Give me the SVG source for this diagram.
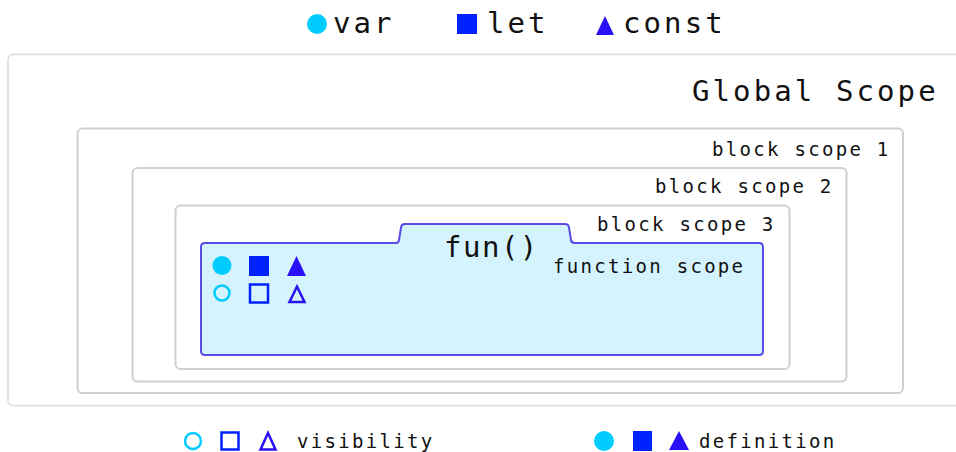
<svg xmlns="http://www.w3.org/2000/svg" width="956" height="452" viewBox="0 0 956 452">
<style>
text{font-family:"DejaVu Sans Mono","Liberation Mono",monospace;fill:#111}
.big{font-size:29px;letter-spacing:3.1px}
.lbl{font-size:19px;letter-spacing:2.3px}
.scope{fill:none;stroke:#d0d0d0;stroke-width:2}
.var{fill:#00ccff}
.let{fill:#0022ff}
.const{fill:#2a10f5}
.varo{fill:none;stroke:#00ccff;stroke-width:2.5}
.leto{fill:none;stroke:#0022ff;stroke-width:2.5}
.consto{fill:none;stroke:#2a10f5;stroke-width:2.5;stroke-linejoin:miter}
</style>
<rect width="956" height="452" fill="#fff"/>
<g id="legend-top">
<circle class="var" cx="317" cy="24" r="10"/>
<text class="big" x="333" y="33">var</text>
<rect class="let" x="457" y="14" width="20" height="20"/>
<text class="big" x="487" y="33">let</text>
<polygon class="const" points="596,35 605,16 614,35"/>
<text class="big" x="623" y="33">const</text>
</g>
<g id="global-scope">
<rect x="8" y="54.5" width="960" height="351" rx="5" fill="none" stroke="#dcdcdc" stroke-width="1.5"/>
<text class="big" x="692" y="101">Global Scope</text>
</g>
<g id="block-scope-1">
<rect class="scope" x="77.5" y="128.5" width="825.5" height="264.5" rx="5"/>
<text class="lbl" x="712" y="156">block scope 1</text>
</g>
<g id="block-scope-2">
<rect class="scope" x="132.5" y="168" width="714" height="213.5" rx="5"/>
<text class="lbl" x="655" y="193">block scope 2</text>
</g>
<g id="block-scope-3">
<rect class="scope" x="175.5" y="205.5" width="614" height="163.5" rx="5"/>
<text class="lbl" x="597" y="231">block scope 3</text>
</g>
<g id="function-scope">
<path d="M201,247 Q201,243 205,243 L396,243 Q398.5,243 399,240 L401,227.5 Q401.5,224 405,224 L565,224 Q568.5,224 569,227.5 L571,240 Q571.5,243 575,243 L759,243 Q763,243 763,247 L763,351 Q763,355 759,355 L205,355 Q201,355 201,351 Z" fill="#d5f3fd" stroke="#5a4ae6" stroke-width="2"/>
<text x="444" y="257" style="font-size:29px;letter-spacing:1.5px">fun()</text>
<text class="lbl" x="553" y="273">function scope</text>
<circle class="var" cx="222" cy="265.5" r="9.5"/>
<rect class="let" x="249" y="256" width="20" height="20"/>
<polygon class="const" points="287,276 296.5,256 306,276"/>
<circle class="varo" cx="222" cy="293" r="7.5"/>
<rect class="leto" x="250" y="284.5" width="18" height="18"/>
<polygon class="consto" points="289.5,302 297,286.5 304.5,302"/>
</g>
<g id="legend-bottom">
<circle class="varo" cx="193" cy="441" r="8"/>
<rect class="leto" x="221.5" y="432.5" width="17" height="17"/>
<polygon class="consto" points="260.5,449.5 268,433 275.5,449.5"/>
<text class="lbl" x="297" y="448">visibility</text>
<circle class="var" cx="604" cy="441" r="10"/>
<rect class="let" x="633" y="431" width="19" height="20"/>
<polygon class="const" points="669,450 679,431 689,450"/>
<text class="lbl" x="699" y="448">definition</text>
</g>
</svg>
